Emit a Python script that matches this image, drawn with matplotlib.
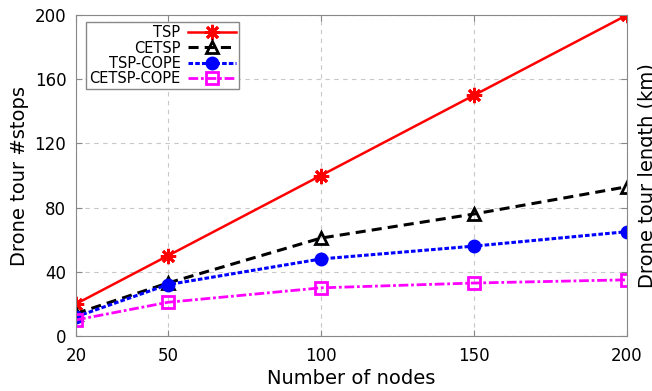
import numpy as np
import matplotlib.pyplot as plt

nodes = [20, 50, 100, 150, 200]
tsp = [20, 50, 100, 150, 200]
cetsp = [14, 33, 61, 76, 93]
tsp_cope = [12, 32, 48, 56, 65]
cetsp_cope = [10, 21, 30, 33, 35]
y_ticks = [0, 40, 80, 120, 160, 200]

fig = plt.figure(figsize=(6.52, 3.91), dpi=100)
ax = fig.add_axes([0.1166, 0.1407, 0.9617 - 0.1166, 0.9616 - 0.1407])

ax.plot(nodes, tsp, color='red', lw=1.8, marker=(8, 2, 0), ms=11, mew=2,
        label='TSP')
ax.plot(nodes, cetsp, color='black', lw=2.2, ls=(0, (3.3, 2)), marker='^',
        ms=9, mfc='none', mew=2, label='CETSP')
ax.plot(nodes, tsp_cope, color='blue', lw=2.2, ls=(0, (1.5, 0.7)), marker='o',
        ms=9, label='TSP-COPE')
ax.plot(nodes, cetsp_cope, color='magenta', lw=2, ls=(0, (3.5, 1, 1, 1)),
        marker='s', ms=8, mfc='none', mew=2, label='CETSP-COPE')

ax.set_xlim(20, 200)
ax.set_ylim(0, 200)
ax.set_xticks(nodes)
ax.set_yticks(y_ticks)
ax.grid(True, color='#c8c8c8', ls=(0, (4, 4)), lw=0.8)
for s in ax.spines.values():
    s.set_color('#888888')
    s.set_linewidth(0.8)
ax.tick_params(direction='in', length=4, color='#888888', labelsize=12,
               top=True, right=True)
ax.tick_params(axis='x', pad=8)
ax.tick_params(axis='y', pad=7)

ax.set_xlabel('Number of nodes', fontsize=14, labelpad=3)
ax.set_ylabel('Drone tour #stops', fontsize=14, labelpad=4)
# right-hand label runs off the edge, as in the original
fig.text(0.979, 0.552, 'Drone tour length (km)', rotation=90, fontsize=14,
         ha='left', va='center')

leg = ax.legend(loc='upper left', bbox_to_anchor=(0.018, 0.978),
                markerfirst=False, fontsize=10.5, fancybox=False,
                framealpha=1, edgecolor='#888888', borderaxespad=0,
                handlelength=3.3, labelspacing=0.02, handletextpad=0.5,
                borderpad=0.22)
for t in leg.get_texts():
    t.set_ha('right')
leg._legend_box.align = 'right'

fig.savefig('out.png', dpi=100)
